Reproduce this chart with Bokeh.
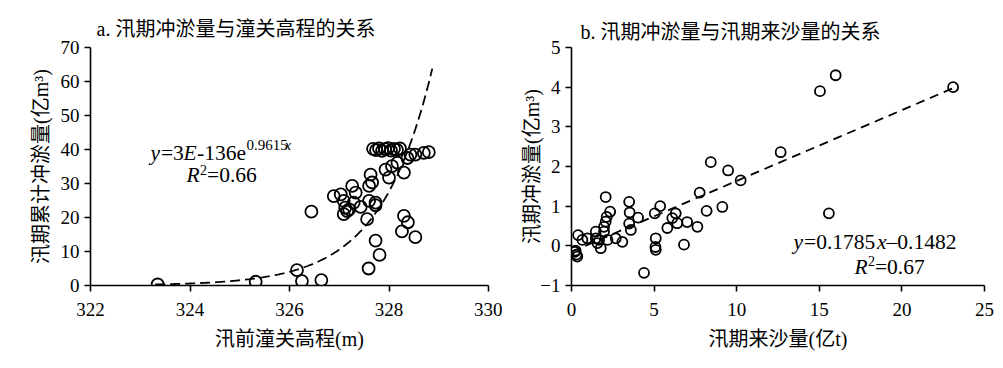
import numpy as np
from bokeh.plotting import figure
from bokeh.layouts import row
from bokeh.models import Range1d, FixedTicker, Label
from bokeh.embed import file_html
from bokeh.resources import INLINE

# ---------------- data ----------------
# a. 汛前潼关高程 (m) vs 汛期累计冲淤量 (亿m3)
a_x = [323.35, 325.32, 326.15, 326.25, 326.64, 326.44, 327.59, 327.81, 327.73, 327.56,
       327.73, 328.30, 328.38, 328.26, 328.53,
       327.68, 327.74, 327.80, 327.86, 327.92, 327.98, 328.04, 328.10, 328.16, 328.22,
       328.43, 328.53, 328.70, 328.80, 328.37, 328.17, 328.06, 327.93, 328.00, 328.30,
       327.63, 327.66, 327.60, 327.26, 327.33, 326.89, 327.03, 327.09, 327.29, 327.16,
       327.20, 327.43, 327.60, 327.73, 327.09, 327.12]
a_y = [0.3, 1.1, 4.5, 1.3, 1.6, 21.7, 5.0, 9.0, 13.2, 19.5,
       23.6, 20.5, 18.6, 15.9, 14.2,
       40.2, 39.8, 40.3, 39.6, 40.1, 40.4, 39.7, 40.2, 39.9, 40.3,
       38.5, 38.5, 39.0, 39.2, 37.5, 36.1, 35.1, 34.1, 31.7, 33.2,
       32.6, 30.3, 29.3, 29.3, 27.3, 26.3, 26.8, 24.9, 24.4, 21.9,
       22.4, 23.1, 24.9, 24.4, 21.0, 22.9]

# b. 汛期来沙量 (亿t) vs 汛期冲淤量 (亿m3)
b_x = [0.20, 0.30, 0.35, 0.25, 0.40, 0.66, 0.96, 1.47, 1.47, 1.57,
       1.67, 1.77, 1.97, 1.97, 2.07, 2.13, 2.34, 2.07, 2.18, 2.68,
       3.08, 3.49, 3.52, 3.49, 3.59, 4.03, 4.39, 5.10, 5.10, 5.08,
       5.04, 5.37, 5.80, 6.10, 6.31, 6.40, 6.81, 7.00, 7.62, 7.76,
       8.18, 8.43, 9.13, 9.48, 10.24, 12.66, 15.04, 15.99, 15.58, 23.10]
b_y = [-0.15, -0.22, -0.27, -0.12, 0.27, 0.15, 0.19, 0.36, 0.19, 0.07,
       0.15, -0.06, 0.36, 0.48, 0.61, 0.73, 0.86, 1.23, 0.15, 0.19,
       0.10, 1.11, 0.84, 0.56, 0.40, 0.71, -0.68, 0.19, -0.10, -0.03,
       0.82, 1.00, 0.45, 0.70, 0.82, 0.57, 0.03, 0.60, 0.48, 1.34,
       0.88, 2.11, 0.98, 1.90, 1.65, 2.36, 3.90, 4.30, 0.82, 4.00]

a_ticks_x = [322, 324, 326, 328, 330]
a_ticks_y = [0, 10, 20, 30, 40, 50, 60, 70]
b_ticks_x = [0, 5, 10, 15, 20, 25]
b_ticks_y = [-1, 0, 1, 2, 3, 4, 5]

# trend lines (from the equations printed on the chart)
a_coef, a_rate = 3e-136, 0.9615
b_slope, b_icpt = 0.1785, -0.1482

SERIF = "'Liberation Serif', 'Noto Sans CJK SC'"
CJK = "'Liberation Serif', 'Noto Sans CJK SC'"


def style(p):
    p.outline_line_color = None
    p.background_fill_color = "white"
    p.border_fill_color = "white"
    p.xgrid.visible = False
    p.ygrid.visible = False
    for ax in (p.xaxis[0], p.yaxis[0]):
        ax.axis_line_color = "black"
        ax.axis_line_width = 1.6
        ax.major_tick_line_color = "black"
        ax.major_tick_line_width = 1.6
        ax.major_tick_out = 6
        ax.major_tick_in = 0
        ax.minor_tick_line_color = None
        ax.major_label_text_font = SERIF
        ax.major_label_text_font_size = "19px"
        ax.major_label_text_color = "black"
        ax.axis_label_text_font = CJK
        ax.axis_label_text_font_size = "20px"
        ax.axis_label_text_font_style = "normal"
        ax.axis_label_text_color = "black"
    p.xaxis[0].major_label_standoff = 11
    p.xaxis[0].axis_label_standoff = 9
    p.title.text_font = CJK
    p.title.text_font_size = "20px"
    p.title.text_font_style = "normal"
    p.title.text_color = "black"
    p.title.align = "left"


def seg(p, x, y, dx, text, size="21.5px", italic=False):
    p.add_layout(Label(x=x, y=y, x_offset=dx, text=text, text_font=SERIF,
                       text_font_size=size,
                       text_font_style="italic" if italic else "normal",
                       text_baseline="alphabetic", text_align="left",
                       text_color="black"))


# ---------------- figure a ----------------
p1 = figure(width=502, height=366, output_backend="svg", toolbar_location=None,
            x_range=Range1d(322, 330), y_range=Range1d(0, 70),
            min_border_left=90, min_border_right=14, min_border_top=47,
            min_border_bottom=79, title="a. 汛期冲淤量与潼关高程的关系")
style(p1)
p1.title.offset = 6
p1.title.standoff = 15
p1.xaxis[0].ticker = FixedTicker(ticks=a_ticks_x)
p1.yaxis[0].ticker = FixedTicker(ticks=a_ticks_y)
p1.xaxis[0].axis_label = "汛前潼关高程(m)"
p1.yaxis[0].axis_label = "汛期累计冲淤量(亿m³)"
p1.yaxis[0].axis_label_standoff = 6

cx = np.linspace(323.3, 328.87, 200)
cy = a_coef * np.exp(a_rate * cx)
p1.line(cx, cy, line_color="black", line_width=1.8, line_dash="10 5")
p1.scatter(a_x, a_y, marker="circle", size=12, fill_color=None,
           line_color="black", line_width=1.8)

# equation a
ex, ey = 323.206, 39.0
seg(p1, ex, ey, 0, "y", italic=True)
seg(p1, ex, ey, 10.5, "=3")
seg(p1, ex, ey, 33, "E", italic=True)
seg(p1, ex, ey, 46.5, "-136e")
seg(p1, ex, 41.3, 96, "0.9615", size="15px")
seg(p1, ex, 41.3, 134, "x", size="15px", italic=True)
rx, ry = 323.93, 32.6
seg(p1, rx, ry, 0, "R", italic=True)
seg(p1, rx, 34.1, 13.5, "2", size="14px")
seg(p1, rx, ry, 20.5, "=0.66")

# ---------------- figure b ----------------
p2 = figure(width=494, height=366, output_backend="svg", toolbar_location=None,
            x_range=Range1d(0, 25), y_range=Range1d(-1, 5),
            min_border_left=69, min_border_right=12, min_border_top=45,
            min_border_bottom=81, title="b. 汛期冲淤量与汛期来沙量的关系")
style(p2)
p2.title.offset = 9
p2.title.standoff = 10
p2.xaxis[0].ticker = FixedTicker(ticks=b_ticks_x)
p2.yaxis[0].ticker = FixedTicker(ticks=b_ticks_y)
p2.yaxis[0].major_label_overrides = {-1: "\u22121"}
p2.xaxis[0].axis_label = "汛期来沙量(亿t)"
p2.yaxis[0].axis_label = "汛期冲淤量(亿m³)"
p2.yaxis[0].axis_label_standoff = -6

lx = np.array([0.0, 23.1])
p2.line(lx, b_slope * lx + b_icpt, line_color="black", line_width=1.8, line_dash="9 6")
p2.scatter(b_x, b_y, marker="circle", size=10, fill_color=None,
           line_color="black", line_width=1.8)

bx, by = 13.44, 0.1
seg(p2, bx, by, 0, "y", italic=True)
seg(p2, bx, by, 10.5, "=0.1785")
seg(p2, bx, by, 83.5, "x", italic=True)
seg(p2, bx, by, 93, "\u20130.1482")
rbx, rby = 17.13, -0.525
seg(p2, rbx, rby, 0, "R", italic=True)
seg(p2, rbx, -0.39, 13.5, "2", size="14px")
seg(p2, rbx, rby, 20.5, "=0.67")

layout = row(p1, p2)
open("out.html", "w").write(file_html(layout, INLINE))
